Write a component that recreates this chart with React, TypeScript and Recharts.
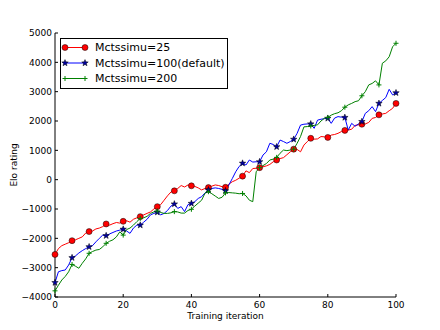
import { LineChart, Line, XAxis, YAxis, Legend } from "recharts";

// training iterations 0..100, Elo values
const iterations = Array.from({ length: 101 }, (_, i) => i);

const mcts25 = [
  -2550, -2350, -2250, -2200, -2150, -2080, -2050, -2000, -1950, -1820,
  -1770, -1750, -1680, -1650, -1600, -1510, -1550, -1500, -1460, -1480,
  -1420, -1400, -1450, -1350, -1300, -1260, -1200, -1150, -1100, -1000,
  -920, -850, -700, -550, -420, -380, -300, -200, -250, -180,
  -210, -230, -280, -350, -300, -270, -220, -180, -200, -240,
  -260, -150, -70, -20, 50, 120, 300, 240, 380, 390,
  410, 440, 470, 520, 610, 670, 720, 750, 850, 950,
  1040, 1030, 950, 1180, 1300, 1410, 1380, 1390, 1470, 1460,
  1440, 1520, 1540, 1580, 1640, 1680, 1690, 1720, 1850, 1870,
  1890, 1900, 1950, 2090, 2120, 2210, 2240, 2260, 2350, 2430,
  2600,
];

const mcts100 = [
  -3510, -3140, -3100, -3080, -2910, -2660, -2600, -2500, -2420, -2350,
  -2290, -2250, -2120, -2000, -1890, -1910, -1850, -1800, -1750, -1720,
  -1690, -1750, -1830, -1650, -1550, -1550, -1450, -1350, -1200, -1150,
  -1110, -1200, -1150, -1050, -900, -830, -980, -920, -1090, -850,
  -810, -750, -640, -580, -450, -350, -300, -280, -300, -330,
  -380, -180, 40, 270, 450, 560, 500, 670, 600, 610,
  610, 840, 950, 1240, 1200, 1120, 1350, 1300, 1240, 1300,
  1375, 1580, 1860, 1890, 1900, 1900, 1750, 2030, 2060, 2080,
  2090, 1920, 2100, 2150, 2130, 2120, 1690, 1920, 1820, 1900,
  1980, 2260, 2350, 2490, 2320, 2600, 2700, 2800, 3080, 2890,
  2960,
];

const mcts200 = [
  -3790, -3600, -3420, -3300, -3140, -2890, -2950, -3020, -2850, -2700,
  -2510, -2450, -2400, -2380, -2290, -2170, -2100, -2050, -1950, -1780,
  -1890, -1700, -1650, -1550, -1430, -1320, -1300, -1250, -1150, -1100,
  -1070, -1120, -1150, -1150, -1130, -1090, -1100, -1140, -1140, -1050,
  -1010, -900, -800, -700, -460, -410, -480, -560, -640, -600,
  -450, -440, -450, -460, -480, -470, -550, -700, -750, 270,
  410, 480, 550, 670, 700, 760, 900, 1010, 990, 1010,
  1040, 1240, 1470, 1800, 1810, 1830, 1850, 1870, 2000, 2090,
  2120, 2200, 2250, 2280, 2350, 2470, 2550, 2600, 2660, 2690,
  2860, 3000, 3230, 3280, 3370, 3230, 3970, 4050, 4190, 4530,
  4650,
];

const seriesNames = ["Mctssimu=25", "Mctssimu=100(default)", "Mctssimu=200"];
const xTicks = [0, 20, 40, 60, 80, 100];
const yTicks = [-4000, -3000, -2000, -1000, 0, 1000, 2000, 3000, 4000, 5000];

const data = iterations.map((it, i) => ({
  it,
  m25: mcts25[i],
  m100: mcts100[i],
  m200: mcts200[i],
}));

const FONT = "DejaVu Sans, Verdana, sans-serif";

function CircleMark({ cx, cy }: any) {
  return <circle cx={cx} cy={cy} r={3} fill="#ff0000" stroke="#000" strokeWidth={0.5} />;
}

function StarMark({ cx, cy }: any) {
  let d = "";
  for (let k = 0; k < 10; k++) {
    const r = k % 2 === 0 ? 3.4 : 1.4;
    const a = -Math.PI / 2 + (k * Math.PI) / 5;
    d += (k === 0 ? "M" : "L") + (cx + r * Math.cos(a)).toFixed(2) + "," + (cy + r * Math.sin(a)).toFixed(2);
  }
  return <path d={d + "Z"} fill="#0000a0" stroke="#000" strokeWidth={0.5} />;
}

function PlusMark({ cx, cy }: any) {
  return (
    <path
      d={`M${cx - 2.5},${cy}H${cx + 2.5}M${cx},${cy - 2.5}V${cy + 2.5}`}
      stroke="#008000"
      strokeWidth={1}
      fill="none"
    />
  );
}

const markers: Record<string, any> = { m25: CircleMark, m100: StarMark, m200: PlusMark };

// markers only on every 5th iteration
const everyFifth = (Mark: any, id: string) => (props: any) => {
  const { cx, cy, index } = props;
  if (index % 5 !== 0) return <g key={`${id}-${index}`} />;
  return (
    <g key={`${id}-${index}`}>
      <Mark cx={cx} cy={cy} />
    </g>
  );
};

function LegendBox({ payload }: any) {
  const rows = [...(payload || [])].sort(
    (a: any, b: any) => seriesNames.indexOf(a.value) - seriesNames.indexOf(b.value)
  );
  return (
    <svg width={168} height={51} style={{ display: "block" }}>
      <rect x={0.5} y={0.5} width={167} height={50} fill="#fff" stroke="#000" />
      {rows.map((e: any, i: number) => {
        const y = 9.5 + i * 15.5;
        const Mark = markers[e.dataKey];
        return (
          <g key={e.value}>
            <line x1={5} x2={25} y1={y} y2={y} stroke={e.color} strokeWidth={1} />
            <Mark cx={5} cy={y} />
            <Mark cx={25} cy={y} />
            <text x={35} y={y} dominantBaseline="central" fontSize={11} fontFamily={FONT} fill="#000">
              {e.value}
            </text>
          </g>
        );
      })}
    </svg>
  );
}

const fmtY = (v: number) => (v < 0 ? "\u2212" + Math.abs(v) : String(v));
const tickStyle = { fontSize: 9, fill: "#000", fontFamily: FONT };

export default function App() {
  return (
    <div style={{ position: "absolute", left: 0, top: 0, background: "#fff" }}>
      <LineChart width={440} height={330} data={data} margin={{ top: 33, right: 44, bottom: 0, left: 0 }}>
        <XAxis
          dataKey="it"
          type="number"
          domain={[0, 100]}
          ticks={xTicks}
          height={33}
          tickSize={-3}
          tickMargin={8}
          axisLine={{ stroke: "#000" }}
          tickLine={{ stroke: "#000" }}
          tick={tickStyle}
          label={{
            content: ({ viewBox }: any) => (
              <text
                x={viewBox.x + viewBox.width / 2}
                y={viewBox.y + 22}
                textAnchor="middle"
                fontSize={9}
                fontFamily={FONT}
                fill="#000"
              >
                Training iteration
              </text>
            ),
          }}
        />
        <XAxis
          xAxisId="top"
          orientation="top"
          dataKey="it"
          type="number"
          domain={[0, 100]}
          allowDataOverflow
          ticks={xTicks}
          height={0}
          tickSize={-3}
          axisLine={{ stroke: "#000" }}
          tickLine={{ stroke: "#000" }}
          tick={() => <g />}
        />
        <YAxis
          type="number"
          domain={[-4000, 5000]}
          ticks={yTicks}
          width={55}
          tickSize={-3}
          tickMargin={6}
          tickFormatter={fmtY}
          axisLine={{ stroke: "#000" }}
          tickLine={{ stroke: "#000" }}
          tick={tickStyle}
          label={{
            content: ({ viewBox }: any) => {
              const cx = 14;
              const cy = viewBox.y + viewBox.height / 2;
              return (
                <text
                  x={cx}
                  y={cy}
                  transform={`rotate(-90 ${cx} ${cy})`}
                  textAnchor="middle"
                  dominantBaseline="central"
                  fontSize={9}
                  fontFamily={FONT}
                  fill="#000"
                >
                  Elo rating
                </text>
              );
            },
          }}
        />
        <YAxis
          yAxisId="right"
          orientation="right"
          type="number"
          domain={[-4000, 5000]}
          allowDataOverflow
          ticks={yTicks}
          width={0}
          tickSize={-3}
          axisLine={{ stroke: "#000" }}
          tickLine={{ stroke: "#000" }}
          tick={() => <g />}
        />
        <Legend
          layout="horizontal"
          verticalAlign="middle"
          align="center"
          content={<LegendBox />}
          wrapperStyle={{ left: 60, top: 38, width: 168, height: 51 }}
        />
        <Line
          dataKey="m25"
          name={seriesNames[0]}
          stroke="#ff0000"
          strokeWidth={1}
          type="linear"
          dot={everyFifth(CircleMark, "r")}
          activeDot={false}
          isAnimationActive={false}
        />
        <Line
          dataKey="m100"
          name={seriesNames[1]}
          stroke="#0000ff"
          strokeWidth={1}
          type="linear"
          dot={everyFifth(StarMark, "b")}
          activeDot={false}
          isAnimationActive={false}
        />
        <Line
          dataKey="m200"
          name={seriesNames[2]}
          stroke="#008000"
          strokeWidth={1}
          type="linear"
          dot={everyFifth(PlusMark, "g")}
          activeDot={false}
          isAnimationActive={false}
        />
      </LineChart>
    </div>
  );
}
